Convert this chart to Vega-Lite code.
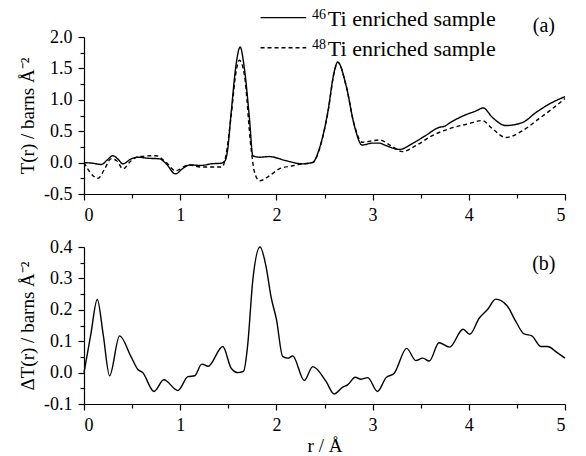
{
  "$schema": "https://vega.github.io/schema/vega-lite/v6.json",
  "background": "white",
  "padding": {"left": 18, "top": 7, "right": 8, "bottom": 0},
  "spacing": 14,
  "config": {
    "font": "Liberation Serif",
    "view": {"stroke": null},
    "axis": {
      "grid": false,
      "domainColor": "black",
      "domainWidth": 1.2,
      "tickColor": "black",
      "tickWidth": 1.2,
      "labelFont": "Liberation Serif",
      "labelFontSize": 18,
      "labelColor": "black",
      "labelOverlap": false,
      "titleFont": "Liberation Serif",
      "titleFontSize": 19,
      "titleFontWeight": "normal",
      "titleColor": "black",
      "tickCount": 30
    },
    "axisX": {"labelPadding": 6},
    "axisY": {"labelPadding": 6}
  },
  "datasets": {
    "top": [
      {"r": 0, "T": 0.0, "sample": "46Ti enriched sample"},
      {"r": 0.09, "T": -0.01, "sample": "46Ti enriched sample"},
      {"r": 0.18, "T": -0.03, "sample": "46Ti enriched sample"},
      {"r": 0.24, "T": 0.04, "sample": "46Ti enriched sample"},
      {"r": 0.30, "T": 0.11, "sample": "46Ti enriched sample"},
      {"r": 0.35, "T": 0.06, "sample": "46Ti enriched sample"},
      {"r": 0.405, "T": -0.02, "sample": "46Ti enriched sample"},
      {"r": 0.49, "T": 0.06, "sample": "46Ti enriched sample"},
      {"r": 0.56, "T": 0.086, "sample": "46Ti enriched sample"},
      {"r": 0.66, "T": 0.07, "sample": "46Ti enriched sample"},
      {"r": 0.785, "T": 0.06, "sample": "46Ti enriched sample"},
      {"r": 0.855, "T": -0.02, "sample": "46Ti enriched sample"},
      {"r": 0.95, "T": -0.18, "sample": "46Ti enriched sample"},
      {"r": 1.03, "T": -0.09, "sample": "46Ti enriched sample"},
      {"r": 1.10, "T": -0.037, "sample": "46Ti enriched sample"},
      {"r": 1.22, "T": -0.045, "sample": "46Ti enriched sample"},
      {"r": 1.32, "T": -0.02, "sample": "46Ti enriched sample"},
      {"r": 1.425, "T": -0.01, "sample": "46Ti enriched sample"},
      {"r": 1.467, "T": 0.03, "sample": "46Ti enriched sample"},
      {"r": 1.49, "T": 0.17, "sample": "46Ti enriched sample"},
      {"r": 1.53, "T": 0.80, "sample": "46Ti enriched sample"},
      {"r": 1.58, "T": 1.55, "sample": "46Ti enriched sample"},
      {"r": 1.623, "T": 1.84, "sample": "46Ti enriched sample"},
      {"r": 1.668, "T": 1.49, "sample": "46Ti enriched sample"},
      {"r": 1.72, "T": 0.70, "sample": "46Ti enriched sample"},
      {"r": 1.755, "T": 0.11, "sample": "46Ti enriched sample"},
      {"r": 1.824, "T": 0.086, "sample": "46Ti enriched sample"},
      {"r": 1.927, "T": 0.096, "sample": "46Ti enriched sample"},
      {"r": 2.10, "T": 0.03, "sample": "46Ti enriched sample"},
      {"r": 2.274, "T": -0.02, "sample": "46Ti enriched sample"},
      {"r": 2.378, "T": 0.005, "sample": "46Ti enriched sample"},
      {"r": 2.446, "T": 0.22, "sample": "46Ti enriched sample"},
      {"r": 2.534, "T": 0.80, "sample": "46Ti enriched sample"},
      {"r": 2.60, "T": 1.44, "sample": "46Ti enriched sample"},
      {"r": 2.637, "T": 1.60, "sample": "46Ti enriched sample"},
      {"r": 2.724, "T": 1.23, "sample": "46Ti enriched sample"},
      {"r": 2.81, "T": 0.59, "sample": "46Ti enriched sample"},
      {"r": 2.89, "T": 0.28, "sample": "46Ti enriched sample"},
      {"r": 3.00, "T": 0.31, "sample": "46Ti enriched sample"},
      {"r": 3.07, "T": 0.31, "sample": "46Ti enriched sample"},
      {"r": 3.14, "T": 0.27, "sample": "46Ti enriched sample"},
      {"r": 3.28, "T": 0.21, "sample": "46Ti enriched sample"},
      {"r": 3.42, "T": 0.31, "sample": "46Ti enriched sample"},
      {"r": 3.55, "T": 0.43, "sample": "46Ti enriched sample"},
      {"r": 3.69, "T": 0.56, "sample": "46Ti enriched sample"},
      {"r": 3.75, "T": 0.58, "sample": "46Ti enriched sample"},
      {"r": 3.80, "T": 0.63, "sample": "46Ti enriched sample"},
      {"r": 3.935, "T": 0.74, "sample": "46Ti enriched sample"},
      {"r": 4.07, "T": 0.82, "sample": "46Ti enriched sample"},
      {"r": 4.15, "T": 0.87, "sample": "46Ti enriched sample"},
      {"r": 4.245, "T": 0.72, "sample": "46Ti enriched sample"},
      {"r": 4.385, "T": 0.59, "sample": "46Ti enriched sample"},
      {"r": 4.56, "T": 0.64, "sample": "46Ti enriched sample"},
      {"r": 4.70, "T": 0.80, "sample": "46Ti enriched sample"},
      {"r": 4.87, "T": 0.96, "sample": "46Ti enriched sample"},
      {"r": 5.0, "T": 1.05, "sample": "46Ti enriched sample"},
      {"r": 0, "T": 0.0, "sample": "48Ti enriched sample"},
      {"r": 0.06, "T": -0.15, "sample": "48Ti enriched sample"},
      {"r": 0.145, "T": -0.25, "sample": "48Ti enriched sample"},
      {"r": 0.215, "T": -0.10, "sample": "48Ti enriched sample"},
      {"r": 0.28, "T": 0.06, "sample": "48Ti enriched sample"},
      {"r": 0.34, "T": 0.03, "sample": "48Ti enriched sample"},
      {"r": 0.405, "T": -0.10, "sample": "48Ti enriched sample"},
      {"r": 0.49, "T": 0.03, "sample": "48Ti enriched sample"},
      {"r": 0.57, "T": 0.096, "sample": "48Ti enriched sample"},
      {"r": 0.75, "T": 0.11, "sample": "48Ti enriched sample"},
      {"r": 0.855, "T": 0.0, "sample": "48Ti enriched sample"},
      {"r": 0.95, "T": -0.13, "sample": "48Ti enriched sample"},
      {"r": 1.09, "T": -0.037, "sample": "48Ti enriched sample"},
      {"r": 1.22, "T": -0.07, "sample": "48Ti enriched sample"},
      {"r": 1.436, "T": -0.07, "sample": "48Ti enriched sample"},
      {"r": 1.475, "T": 0.11, "sample": "48Ti enriched sample"},
      {"r": 1.53, "T": 0.75, "sample": "48Ti enriched sample"},
      {"r": 1.58, "T": 1.44, "sample": "48Ti enriched sample"},
      {"r": 1.616, "T": 1.63, "sample": "48Ti enriched sample"},
      {"r": 1.668, "T": 1.39, "sample": "48Ti enriched sample"},
      {"r": 1.737, "T": 0.22, "sample": "48Ti enriched sample"},
      {"r": 1.772, "T": -0.15, "sample": "48Ti enriched sample"},
      {"r": 1.824, "T": -0.29, "sample": "48Ti enriched sample"},
      {"r": 1.927, "T": -0.21, "sample": "48Ti enriched sample"},
      {"r": 2.03, "T": -0.10, "sample": "48Ti enriched sample"},
      {"r": 2.17, "T": -0.05, "sample": "48Ti enriched sample"},
      {"r": 2.274, "T": -0.02, "sample": "48Ti enriched sample"},
      {"r": 2.378, "T": 0.0, "sample": "48Ti enriched sample"},
      {"r": 2.446, "T": 0.21, "sample": "48Ti enriched sample"},
      {"r": 2.534, "T": 0.79, "sample": "48Ti enriched sample"},
      {"r": 2.60, "T": 1.43, "sample": "48Ti enriched sample"},
      {"r": 2.637, "T": 1.60, "sample": "48Ti enriched sample"},
      {"r": 2.724, "T": 1.23, "sample": "48Ti enriched sample"},
      {"r": 2.81, "T": 0.60, "sample": "48Ti enriched sample"},
      {"r": 2.89, "T": 0.325, "sample": "48Ti enriched sample"},
      {"r": 3.07, "T": 0.36, "sample": "48Ti enriched sample"},
      {"r": 3.19, "T": 0.27, "sample": "48Ti enriched sample"},
      {"r": 3.31, "T": 0.175, "sample": "48Ti enriched sample"},
      {"r": 3.45, "T": 0.27, "sample": "48Ti enriched sample"},
      {"r": 3.62, "T": 0.43, "sample": "48Ti enriched sample"},
      {"r": 3.80, "T": 0.54, "sample": "48Ti enriched sample"},
      {"r": 4.00, "T": 0.62, "sample": "48Ti enriched sample"},
      {"r": 4.14, "T": 0.67, "sample": "48Ti enriched sample"},
      {"r": 4.245, "T": 0.54, "sample": "48Ti enriched sample"},
      {"r": 4.385, "T": 0.40, "sample": "48Ti enriched sample"},
      {"r": 4.56, "T": 0.51, "sample": "48Ti enriched sample"},
      {"r": 4.73, "T": 0.70, "sample": "48Ti enriched sample"},
      {"r": 4.87, "T": 0.86, "sample": "48Ti enriched sample"},
      {"r": 5.0, "T": 1.02, "sample": "48Ti enriched sample"}
    ],
    "bottom": [
      {"r": 0, "dT": 0.0},
      {"r": 0.07, "dT": 0.12},
      {"r": 0.138, "dT": 0.233},
      {"r": 0.2, "dT": 0.12},
      {"r": 0.266, "dT": -0.01},
      {"r": 0.37, "dT": 0.117},
      {"r": 0.49, "dT": 0.05},
      {"r": 0.56, "dT": 0.01},
      {"r": 0.61, "dT": 0.0},
      {"r": 0.727, "dT": -0.06},
      {"r": 0.83, "dT": -0.023},
      {"r": 0.976, "dT": -0.057},
      {"r": 1.08, "dT": -0.013},
      {"r": 1.15, "dT": -0.01},
      {"r": 1.225, "dT": 0.027},
      {"r": 1.29, "dT": 0.02},
      {"r": 1.443, "dT": 0.083},
      {"r": 1.53, "dT": 0.014},
      {"r": 1.6, "dT": 0.0},
      {"r": 1.66, "dT": 0.005},
      {"r": 1.70, "dT": 0.083},
      {"r": 1.755, "dT": 0.295},
      {"r": 1.83, "dT": 0.4},
      {"r": 1.893, "dT": 0.337},
      {"r": 1.945, "dT": 0.24},
      {"r": 2.0, "dT": 0.17},
      {"r": 2.066, "dT": 0.051},
      {"r": 2.12, "dT": 0.046},
      {"r": 2.17, "dT": 0.053},
      {"r": 2.29, "dT": -0.025},
      {"r": 2.378, "dT": 0.019},
      {"r": 2.516, "dT": -0.028},
      {"r": 2.60, "dT": -0.068},
      {"r": 2.69, "dT": -0.046},
      {"r": 2.74, "dT": -0.039},
      {"r": 2.82, "dT": -0.015},
      {"r": 2.88, "dT": -0.021},
      {"r": 2.95, "dT": -0.016},
      {"r": 3.05, "dT": -0.06},
      {"r": 3.14, "dT": -0.016},
      {"r": 3.225, "dT": -0.002},
      {"r": 3.354, "dT": 0.077},
      {"r": 3.45, "dT": 0.038},
      {"r": 3.52, "dT": 0.046},
      {"r": 3.59, "dT": 0.037},
      {"r": 3.69, "dT": 0.095},
      {"r": 3.80, "dT": 0.081},
      {"r": 3.94, "dT": 0.138},
      {"r": 4.01, "dT": 0.122},
      {"r": 4.108, "dT": 0.173},
      {"r": 4.195, "dT": 0.201},
      {"r": 4.28, "dT": 0.234},
      {"r": 4.40, "dT": 0.212},
      {"r": 4.49, "dT": 0.162},
      {"r": 4.575, "dT": 0.123},
      {"r": 4.655, "dT": 0.117},
      {"r": 4.75, "dT": 0.083},
      {"r": 4.82, "dT": 0.083},
      {"r": 4.905, "dT": 0.067},
      {"r": 5.0, "dT": 0.046}
    ]
  },
  "vconcat": [
    {
      "width": 481,
      "height": 157,
      "layer": [
        {
          "data": {"name": "top"},
          "mark": {"type": "line", "interpolate": "monotone", "strokeWidth": 1.4, "color": "black"},
          "encoding": {
            "x": {
              "field": "r", "type": "quantitative",
              "scale": {"domain": [0, 5], "nice": false},
              "axis": {
                "title": null,
                "labelOverlap": false,
                "tickCount": 30,
                "values": [0, 0.5, 1, 1.5, 2, 2.5, 3, 3.5, 4, 4.5, 5],
                "labelExpr": "datum.value % 1 === 0 ? format(datum.value, 'd') : ''",
                "tickSize": {"condition": {"test": "datum.value % 1 === 0", "value": 6}, "value": 4}
              }
            },
            "y": {
              "field": "T", "type": "quantitative",
              "scale": {"domain": [-0.5, 2.0], "nice": false},
              "axis": {
                "title": "T(r) / barns Å⁻²",
                "labelOverlap": false,
                "tickCount": 30,
                "values": [-0.5, -0.25, 0, 0.25, 0.5, 0.75, 1, 1.25, 1.5, 1.75, 2],
                "labelExpr": "abs(datum.value*2 - round(datum.value*2)) < 1e-6 ? replace(format(datum.value, '.1f'), '\u2212', '-') : ''",
                "tickSize": {"condition": {"test": "abs(datum.value*2 - round(datum.value*2)) < 1e-6", "value": 6}, "value": 4},
                "titlePadding": 6
              }
            },
            "strokeDash": {
              "field": "sample", "type": "nominal",
              "scale": {"domain": ["46Ti enriched sample", "48Ti enriched sample"], "range": [[1, 0], [4, 3]]},
              "legend": null
            }
          }
        },
        {
          "data": {"values": [{"entry": "46Ti enriched sample"}]},
          "mark": {"type": "rule", "strokeWidth": 1.4, "color": "black"},
          "encoding": {
            "x": {"datum": 1.835, "type": "quantitative"},
            "x2": {"datum": 2.31},
            "y": {"datum": 2.308, "type": "quantitative"}
          }
        },
        {
          "data": {"values": [{"entry": "48Ti enriched sample"}]},
          "mark": {"type": "rule", "strokeWidth": 1.4, "color": "black", "strokeDash": [4, 3]},
          "encoding": {
            "x": {"datum": 1.835, "type": "quantitative"},
            "x2": {"datum": 2.31},
            "y": {"datum": 1.829, "type": "quantitative"}
          }
        },
        {
          "data": {"values": [{"label": "46"}]},
          "mark": {"type": "text", "fontSize": 14, "font": "Liberation Serif", "color": "black", "align": "left", "baseline": "alphabetic"},
          "encoding": {
            "x": {"datum": 2.37, "type": "quantitative"},
            "y": {"datum": 2.29, "type": "quantitative"},
            "text": {"field": "label"}
          }
        },
        {
          "data": {"values": [{"label": "Ti enriched sample"}]},
          "mark": {"type": "text", "fontSize": 22, "font": "Liberation Serif", "color": "black", "align": "left", "baseline": "alphabetic"},
          "encoding": {
            "x": {"datum": 2.535, "type": "quantitative"},
            "y": {"datum": 2.18, "type": "quantitative"},
            "text": {"field": "label"}
          }
        },
        {
          "data": {"values": [{"label": "48"}]},
          "mark": {"type": "text", "fontSize": 14, "font": "Liberation Serif", "color": "black", "align": "left", "baseline": "alphabetic"},
          "encoding": {
            "x": {"datum": 2.37, "type": "quantitative"},
            "y": {"datum": 1.81, "type": "quantitative"},
            "text": {"field": "label"}
          }
        },
        {
          "data": {"values": [{"label": "Ti enriched sample"}]},
          "mark": {"type": "text", "fontSize": 22, "font": "Liberation Serif", "color": "black", "align": "left", "baseline": "alphabetic"},
          "encoding": {
            "x": {"datum": 2.535, "type": "quantitative"},
            "y": {"datum": 1.70, "type": "quantitative"},
            "text": {"field": "label"}
          }
        },
        {
          "data": {"values": [{"label": "(a)"}]},
          "mark": {"type": "text", "fontSize": 20, "font": "Liberation Serif", "color": "black"},
          "encoding": {
            "x": {"datum": 4.78, "type": "quantitative"},
            "y": {"datum": 2.17, "type": "quantitative"},
            "text": {"field": "label"}
          }
        }
      ]
    },
    {
      "width": 481,
      "height": 157,
      "layer": [
        {
          "data": {"name": "bottom"},
          "mark": {"type": "line", "interpolate": "monotone", "strokeWidth": 1.4, "color": "black"},
          "encoding": {
            "x": {
              "field": "r", "type": "quantitative",
              "scale": {"domain": [0, 5], "nice": false},
              "axis": {
                "title": "r / Å",
                "labelOverlap": false,
                "tickCount": 30,
                "titlePadding": 2,
                "values": [0, 0.5, 1, 1.5, 2, 2.5, 3, 3.5, 4, 4.5, 5],
                "labelExpr": "datum.value % 1 === 0 ? format(datum.value, 'd') : ''",
                "tickSize": {"condition": {"test": "datum.value % 1 === 0", "value": 6}, "value": 4}
              }
            },
            "y": {
              "field": "dT", "type": "quantitative",
              "scale": {"domain": [-0.1, 0.4], "nice": false},
              "axis": {
                "title": "ΔT(r) / barns Å⁻²",
                "labelOverlap": false,
                "tickCount": 30,
                "values": [-0.1, -0.05, 0, 0.05, 0.1, 0.15, 0.2, 0.25, 0.3, 0.35, 0.4],
                "labelExpr": "abs(datum.value*10 - round(datum.value*10)) < 1e-6 ? replace(format(datum.value, '.1f'), '\u2212', '-') : ''",
                "tickSize": {"condition": {"test": "abs(datum.value*10 - round(datum.value*10)) < 1e-6", "value": 6}, "value": 4},
                "titlePadding": 6
              }
            }
          }
        },
        {
          "data": {"values": [{"label": "(b)"}]},
          "mark": {"type": "text", "fontSize": 20, "font": "Liberation Serif", "color": "black"},
          "encoding": {
            "x": {"datum": 4.78, "type": "quantitative"},
            "y": {"datum": 0.346, "type": "quantitative"},
            "text": {"field": "label"}
          }
        }
      ]
    }
  ]
}
